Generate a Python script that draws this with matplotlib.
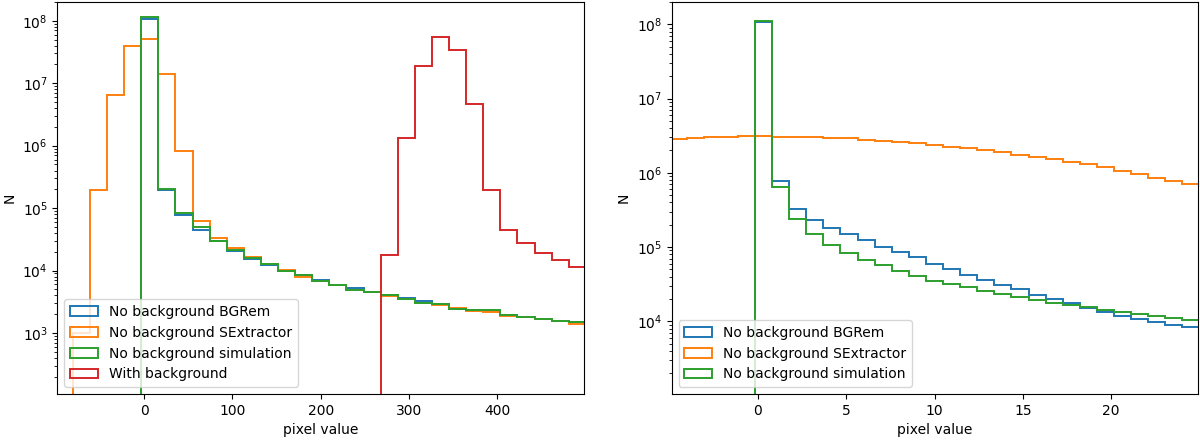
import numpy as np
import matplotlib
matplotlib.use("Agg")
import matplotlib.pyplot as plt

# ---------------- data ----------------
labels_left = ["No background BGRem", "No background SExtractor",
               "No background simulation", "With background"]
labels_right = labels_left[:3]
colors = ["C0", "C1", "C2", "C3"]

# Left panel: 31 bins between -100 and 500
edges_left = np.linspace(-100, 500, 32)

bgrem_left = [0, 0, 0, 0, 0, 1.08e8, 1.95e5, 7.7e4, 4.4e4, 2.95e4, 2.1e4,
              1.53e4, 1.22e4, 9.9e3, 8.5e3, 7.0e3, 5.9e3, 5.3e3, 4.56e3,
              4.04e3, 3.66e3, 3.23e3, 2.9e3, 2.45e3, 2.34e3, 2.25e3, 1.98e3,
              1.79e3, 1.66e3, 1.58e3, 1.52e3]
sextractor_left = [0, 1.0e3, 1.95e5, 6.4e6, 3.9e7, 5.1e7, 1.4e7, 8.3e5, 6.25e4,
                   3.37e4, 2.28e4, 1.63e4, 1.29e4, 1.02e4, 7.94e3, 6.8e3,
                   5.9e3, 4.9e3, 4.56e3, 3.89e3, 3.5e3, 3.0e3, 2.79e3, 2.55e3,
                   2.3e3, 2.15e3, 1.9e3, 1.79e3, 1.66e3, 1.55e3, 1.42e3]
simulation_left = [0, 0, 0, 0, 0, 1.13e8, 2.0e5, 8.4e4, 5.0e4, 3.0e4, 2.15e4,
                   1.61e4, 1.29e4, 9.9e3, 8.5e3, 6.8e3, 5.9e3, 4.9e3, 4.56e3,
                   4.04e3, 3.48e3, 3.0e3, 2.9e3, 2.45e3, 2.34e3, 2.34e3,
                   1.98e3, 1.79e3, 1.66e3, 1.58e3, 1.52e3]
background_left = [0, 0, 0, 0, 0, 0, 0, 0, 0, 0, 0, 0, 0, 0, 0, 0, 0, 0, 0,
                   1.77e4, 1.31e6, 1.87e7, 5.4e7, 3.38e7, 4.7e6, 1.96e5,
                   4.4e4, 2.73e4, 1.93e4, 1.49e4, 1.15e4]

# Right panel: 31 bins between -5 and 25
edges_right = np.linspace(-5, 25, 32)

bgrem_right = [0, 0, 0, 0, 0, 1.08e8, 7.77e5, 3.21e5, 2.3e5, 1.81e5, 1.52e5,
               1.23e5, 1.01e5, 8.55e4, 7.25e4, 5.96e4, 4.99e4, 4.23e4, 3.61e4,
               3.05e4, 2.7e4, 2.28e4, 2.0e4, 1.74e4, 1.52e4, 1.32e4, 1.17e4,
               1.07e4, 9.76e3, 9.06e3, 8.5e3]
sextractor_right = [2.85e6, 2.97e6, 3.0e6, 3.02e6, 3.09e6, 3.09e6, 3.0e6,
                    3.0e6, 3.0e6, 2.91e6, 2.91e6, 2.77e6, 2.68e6, 2.57e6,
                    2.49e6, 2.37e6, 2.26e6, 2.15e6, 2.02e6, 1.88e6, 1.75e6,
                    1.63e6, 1.52e6, 1.41e6, 1.30e6, 1.18e6, 1.06e6, 9.6e5,
                    8.6e5, 7.8e5, 7.1e5]
simulation_right = [0, 0, 0, 0, 0, 1.12e8, 6.45e5, 2.39e5, 1.52e5, 1.08e5,
                    8.3e4, 6.7e4, 5.65e4, 4.8e4, 4.14e4, 3.5e4, 3.19e4, 2.87e4,
                    2.53e4, 2.31e4, 2.15e4, 1.94e4, 1.76e4, 1.66e4, 1.54e4,
                    1.40e4, 1.35e4, 1.24e4, 1.19e4, 1.11e4, 1.04e4]

# ---------------- plot ----------------
fig = plt.figure(figsize=(12, 4.41), dpi=100)
ax1 = fig.add_axes([0.0479, 0.1066, 0.4388, 0.8896])
ax2 = fig.add_axes([0.5598, 0.1066, 0.4388, 0.8896])

centers_left = 0.5 * (edges_left[:-1] + edges_left[1:])
for vals, lab, col in zip([bgrem_left, sextractor_left, simulation_left,
                           background_left], labels_left, colors):
    ax1.hist(centers_left, bins=edges_left, weights=vals, histtype="step",
             log=True, label=lab, color=col, linewidth=1.4)

centers_right = 0.5 * (edges_right[:-1] + edges_right[1:])
for vals, lab, col in zip([bgrem_right, sextractor_right, simulation_right],
                          labels_right, colors):
    ax2.hist(centers_right, bins=edges_right, weights=vals, histtype="step",
             log=True, label=lab, color=col, linewidth=1.4)

ax1.set_xlim(-98, 498)
ax1.set_ylim(1.06e2, 2.02e8)
ax2.set_xlim(-4.87, 24.93)
ax2.set_ylim(1.05e3, 2.02e8)

for ax in (ax1, ax2):
    ax.set_xlabel("pixel value")
    ax.set_ylabel("N")
    ax.legend(loc="lower left")

fig.savefig("out.png", dpi=100)
